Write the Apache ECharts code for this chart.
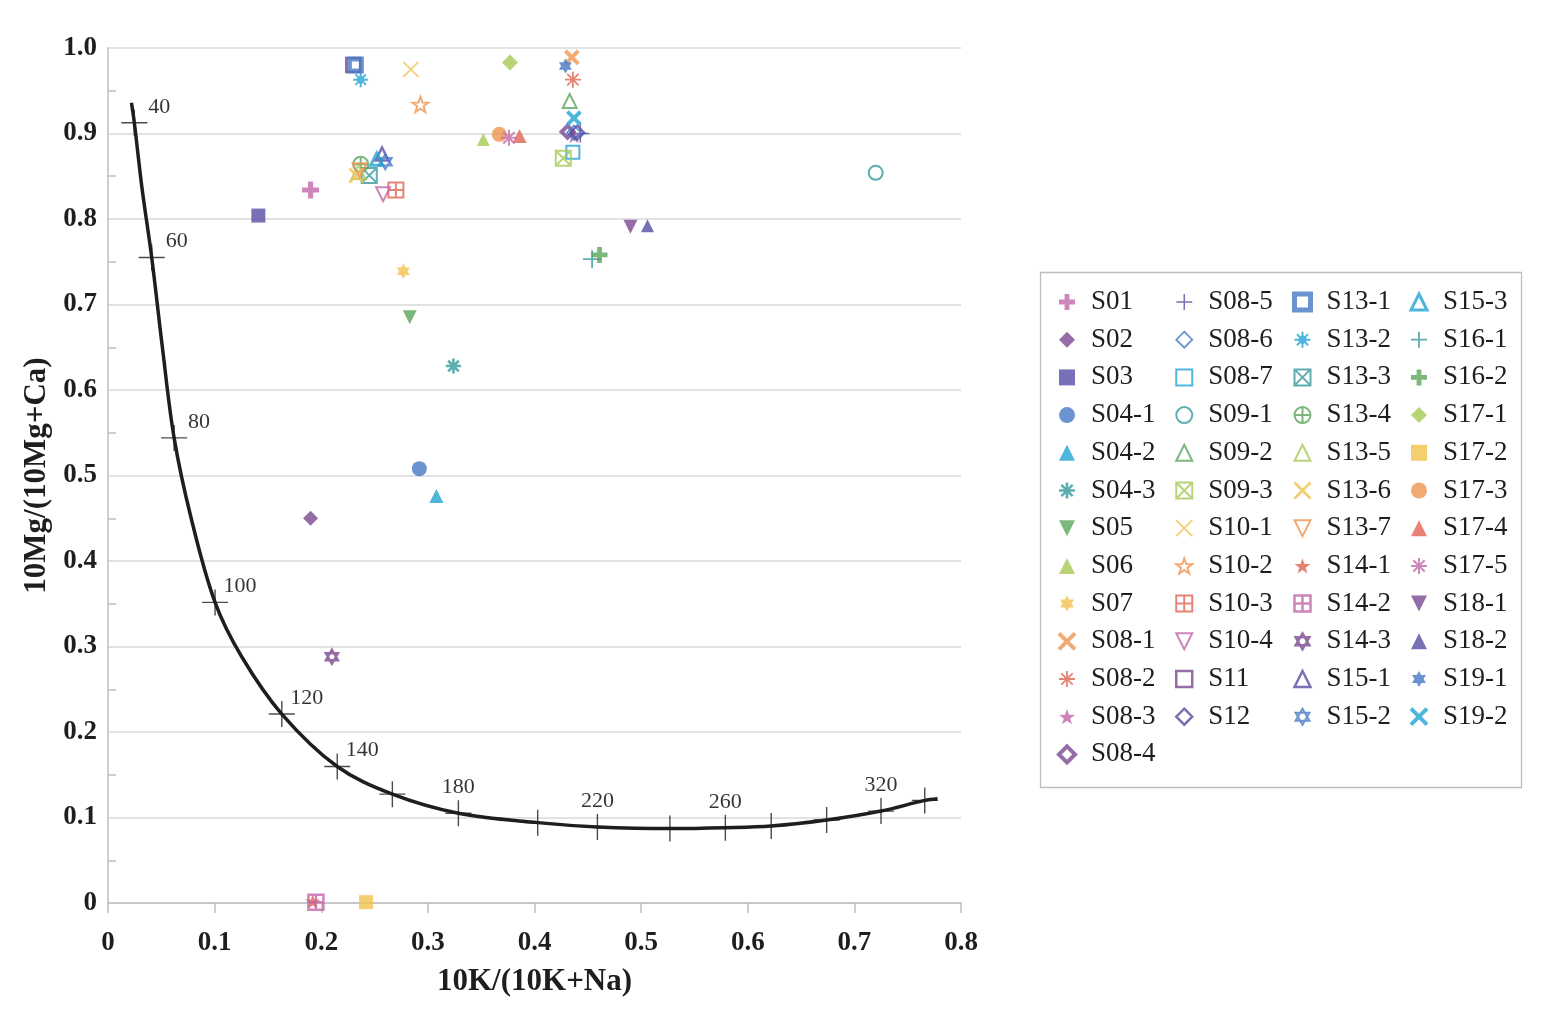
<!DOCTYPE html>
<html>
<head>
<meta charset="utf-8">
<script src="https://cdn.jsdelivr.net/npm/echarts@6/dist/echarts.min.js"></script>
<style>
html,body{margin:0;padding:0;background:#fff}
#chart{width:1542px;height:1010px}
</style>
</head>
<body>
<div id="chart"></div>
<script>
// sample points
var sampleNames = ['S01','S02','S03','S04-1','S04-2','S04-3','S05','S06','S07','S08-1','S08-2','S08-3','S08-4',
  'S08-5','S08-6','S08-7','S09-1','S09-2','S09-3','S10-1','S10-2','S10-3','S10-4','S11','S12',
  'S13-1','S13-2','S13-3','S13-4','S13-5','S13-6','S13-7','S14-1','S14-2','S14-3','S15-1','S15-2',
  'S15-3','S16-1','S16-2','S17-1','S17-2','S17-3','S17-4','S17-5','S18-1','S18-2','S19-1','S19-2'];
var sampleX = [0.190,0.190,0.141,0.292,0.308,0.324,0.283,0.352,0.277,0.435,0.436,0.437,0.431,
  0.443,0.437,0.436,0.720,0.433,0.427,0.284,0.293,0.270,0.258,0.230,0.440,
  0.232,0.237,0.245,0.237,0.235,0.233,0.236,0.192,0.195,0.210,0.257,0.260,
  0.252,0.454,0.461,0.377,0.242,0.367,0.386,0.376,0.490,0.506,0.429,0.437];
var sampleY = [0.834,0.450,0.804,0.508,0.476,0.628,0.685,0.893,0.739,0.989,0.963,0.897,0.902,
  0.900,0.901,0.878,0.854,0.938,0.871,0.975,0.934,0.834,0.829,0.980,0.901,
  0.980,0.963,0.851,0.864,0.855,0.851,0.857,0.002,0.001,0.288,0.876,0.867,
  0.870,0.753,0.758,0.983,0.001,0.899,0.897,0.895,0.791,0.792,0.979,0.918];

// equilibrium curve
var curveX = [0.022,0.0247,0.032,0.041,0.051,0.062,0.078,0.1004,0.1254,0.163,0.215,0.2667,0.3286,0.403,0.459,0.527,0.579,0.622,0.674,0.725,0.766,0.778];
var curveY = [0.936,0.9125,0.835,0.755,0.650,0.544,0.450,0.3516,0.288,0.221,0.1596,0.1273,0.105,0.094,0.089,0.087,0.088,0.090,0.097,0.1075,0.120,0.122];

// temperature marks on the curve
var tempT = [40,60,80,100,120,140,160,180,200,220,240,260,280,300,320,340];
var tempX = [0.0247,0.041,0.062,0.1004,0.163,0.215,0.2667,0.3286,0.403,0.459,0.527,0.579,0.622,0.674,0.725,0.766];
var tempY = [0.9125,0.755,0.544,0.3516,0.221,0.1596,0.1273,0.105,0.094,0.089,0.087,0.088,0.090,0.097,0.1075,0.120];
var tempShown = [40,60,80,100,120,140,180,220,260,320];

var xTicks = [0,0.1,0.2,0.3,0.4,0.5,0.6,0.7,0.8];

var FONT = '"Liberation Serif", "DejaVu Serif", serif';

var C = {pink:'#c266a8', purple:'#7b4890', indigo:'#564ea2', blue:'#4678c4', cyan:'#22a2d4',
  teal:'#36999b', green:'#5ba55b', lime:'#a7c955', yellow:'#f1c34f', orange:'#ef9553', red:'#e06452'};

var P = {
  plusThick: 'path://M-3,-10H3V-3H10V3H3V10H-3V3H-10V-3H-3Z',
  plusThin: 'path://M0,-10V10M-10,0H10',
  x: 'path://M-10,-10L10,10M10,-10L-10,10',
  aster: 'path://M0,-10V10M-10,0H10M-7.07,-7.07L7.07,7.07M7.07,-7.07L-7.07,7.07',
  snow: 'path://M0,-10V10M-10,0H10M-7,-7L7,7M7,-7L-7,7M0,-5L5,0L0,5L-5,0Z',
  star5: 'path://M0,-10L2.35,-3.24L9.51,-3.09L3.8,1.24L5.88,8.09L0,4L-5.88,8.09L-3.8,1.24L-9.51,-3.09L-2.35,-3.24Z',
  hexFill: 'path://M0,-10L2.89,-5L8.66,-5L5.77,0L8.66,5L2.89,5L0,10L-2.89,5L-8.66,5L-5.77,0L-8.66,-5L-2.89,-5Z',
  hexLine: 'path://M0,-10L8.66,5L-8.66,5Z M0,10L8.66,-5L-8.66,-5Z',
  boxX: 'path://M-10,-10H10V10H-10Z M-10,-10L10,10 M10,-10L-10,10',
  boxPlus: 'path://M-10,-10H10V10H-10Z M0,-10V10 M-10,0H10',
  circPlus: 'path://M-10,0A10,10 0 1 1 10,0A10,10 0 1 1 -10,0Z M0,-10V10 M-10,0H10',
  down: 'path://M-10,-10H10L0,10Z'
};

// marker style per sample: [symbol, colour, size, borderWidth (0 = filled)]
var markerStyle = {
  'S01':[P.plusThick,C.pink,17,0], 'S02':['diamond',C.purple,15,0], 'S03':['rect',C.indigo,14,0],
  'S04-1':['circle',C.blue,15,0], 'S04-2':['triangle',C.cyan,14,0], 'S04-3':[P.aster,C.teal,15,2.6],
  'S05':[P.down,C.green,14,0], 'S06':['triangle',C.lime,13,0], 'S07':[P.hexFill,C.yellow,15,0],
  'S08-1':[P.x,C.orange,13,4], 'S08-2':[P.aster,C.red,16,1.8], 'S08-3':[P.star5,C.pink,15,0],
  'S08-4':['diamond',C.purple,12,4], 'S08-5':[P.plusThin,C.indigo,18,1.5], 'S08-6':['diamond',C.blue,14,1.8],
  'S08-7':['rect',C.cyan,13,2], 'S09-1':['circle',C.teal,14,2], 'S09-2':['triangle',C.green,14,2],
  'S09-3':[P.boxX,C.lime,15,2], 'S10-1':[P.x,C.yellow,15,1.8], 'S10-2':[P.star5,C.orange,16,2],
  'S10-3':[P.boxPlus,C.red,15,2], 'S10-4':[P.down,C.pink,14,2], 'S11':['rect',C.purple,14,2.5],
  'S12':['diamond',C.indigo,14,2.5], 'S13-1':['rect',C.blue,12,5], 'S13-2':[P.snow,C.cyan,15,2],
  'S13-3':[P.boxX,C.teal,15,2], 'S13-4':[P.circPlus,C.green,15,2], 'S13-5':['triangle',C.lime,14,2],
  'S13-6':[P.x,C.yellow,14,2.8], 'S13-7':[P.down,C.orange,14,2], 'S14-1':[P.star5,C.red,15,0],
  'S14-2':[P.boxPlus,C.pink,15,2.5], 'S14-3':[P.hexLine,C.purple,14,2.4], 'S15-1':['triangle',C.indigo,13,2.5],
  'S15-2':[P.hexLine,C.blue,15,2], 'S15-3':['triangle',C.cyan,12,3], 'S16-1':[P.plusThin,C.teal,18,1.8],
  'S16-2':[P.plusThick,C.green,16,0], 'S17-1':['diamond',C.lime,16,0], 'S17-2':['rect',C.yellow,14,0],
  'S17-3':['circle',C.orange,15,0], 'S17-4':['triangle',C.red,14,0], 'S17-5':[P.aster,C.pink,16,2],
  'S18-1':[P.down,C.purple,14,0], 'S18-2':['triangle',C.indigo,13,0], 'S19-1':[P.hexFill,C.blue,15,0],
  'S19-2':[P.x,C.cyan,13,4]
};

var chart = echarts.init(document.getElementById('chart'));

var series = [];

series.push({
  name: 'curve',
  type: 'line',
  data: curveX.map(function (x, i) { return [x, curveY[i]]; }),
  smooth: 0.35,
  showSymbol: false,
  silent: true,
  lineStyle: {color: '#1e1e1e', width: 3.5},
  z: 2
});

series.push({
  name: 'temp',
  type: 'scatter',
  silent: true,
  symbol: 'path://M0,-10V10M-10,0H10',
  symbolSize: 26,
  itemStyle: {color: 'transparent', borderColor: '#1e1e1e', borderWidth: 1.4},
  data: tempT.map(function (t, i) {
    var shown = tempShown.indexOf(t) >= 0;
    return {
      value: [tempX[i], tempY[i]],
      label: {
        show: shown,
        formatter: String(t),
        position: 'inside',
        offset: tempX[i] < 0.3 ? [25, -16] : [0, -26],
        fontFamily: FONT, fontSize: 22, color: '#000'
      }
    };
  }),
  z: 3
});

sampleNames.forEach(function (name, i) {
  var s = markerStyle[name];
  var hollow = s[3] > 0;
  series.push({
    name: name,
    type: 'scatter',
    symbol: s[0],
    symbolSize: s[2],
    symbolKeepAspect: true,
    itemStyle: hollow
      ? {color: 'transparent', borderColor: s[1], borderWidth: s[3]}
      : {color: s[1], borderWidth: 0},
    data: [[sampleX[i], sampleY[i]]],
    z: 4
  });
});

var legendCols = [[0, 13], [13, 25], [25, 37], [37, 49]];
var legendLeft = [1057, 1175, 1292, 1409];
var legends = legendCols.map(function (r, k) {
  return {
    orient: 'vertical',
    left: legendLeft[k],
    top: 288.5,
    padding: 0,
    itemWidth: 16,
    itemHeight: 16,
    itemGap: 10.7,
    selectedMode: false,
    itemStyle: {borderWidth: 'inherit'},
    textStyle: {fontFamily: FONT, fontSize: 27, color: '#1e1e1e', padding: [0, 0, 0, 11]},
    data: sampleNames.slice(r[0], r[1])
  };
});

var option = {
  backgroundColor: '#fff',
  animation: false,
  grid: {left: 108, top: 48, right: 581, bottom: 107},
  graphic: [{
    type: 'rect',
    shape: {x: 1040.5, y: 272.5, width: 481, height: 515},
    style: {fill: 'transparent', stroke: '#bdbdbd', lineWidth: 1.3},
    silent: true
  }],
  legend: legends,
  xAxis: {
    type: 'value',
    min: xTicks[0],
    max: xTicks[xTicks.length - 1],
    interval: 0.1,
    name: '10K/(10K+Na)',
    nameLocation: 'middle',
    nameGap: 63,
    nameTextStyle: {fontFamily: FONT, fontSize: 31, fontWeight: 'bold', color: '#1e1e1e'},
    axisLine: {show: true, lineStyle: {color: '#bfbfbf', width: 1.5}},
    axisTick: {show: true, length: 10, lineStyle: {color: '#bfbfbf', width: 1.5}},
    splitLine: {show: false},
    axisLabel: {
      margin: 27,
      fontFamily: FONT, fontSize: 27, fontWeight: 'bold', color: '#1e1e1e',
      formatter: function (v) { return v === 0 ? '0' : v.toFixed(1); }
    }
  },
  yAxis: {
    type: 'value',
    min: 0,
    max: 1,
    interval: 0.1,
    name: '10Mg/(10Mg+Ca)',
    nameLocation: 'middle',
    nameGap: 54,
    nameTextStyle: {fontFamily: FONT, fontSize: 31, fontWeight: 'bold', color: '#1e1e1e'},
    axisLine: {show: true, lineStyle: {color: '#bfbfbf', width: 1.5}},
    axisTick: {show: false, inside: true},
    minorTick: {show: true, splitNumber: 2, length: 8, lineStyle: {color: '#bfbfbf', width: 1.5}},
    splitLine: {show: true, lineStyle: {color: '#d9d9d9', width: 1.5}},
    axisLabel: {
      margin: 11,
      fontFamily: FONT, fontSize: 27, fontWeight: 'bold', color: '#1e1e1e',
      formatter: function (v) { return v === 0 ? '0' : v.toFixed(1); }
    }
  },
  series: series
};

chart.setOption(option);
</script>
</body>
</html>
